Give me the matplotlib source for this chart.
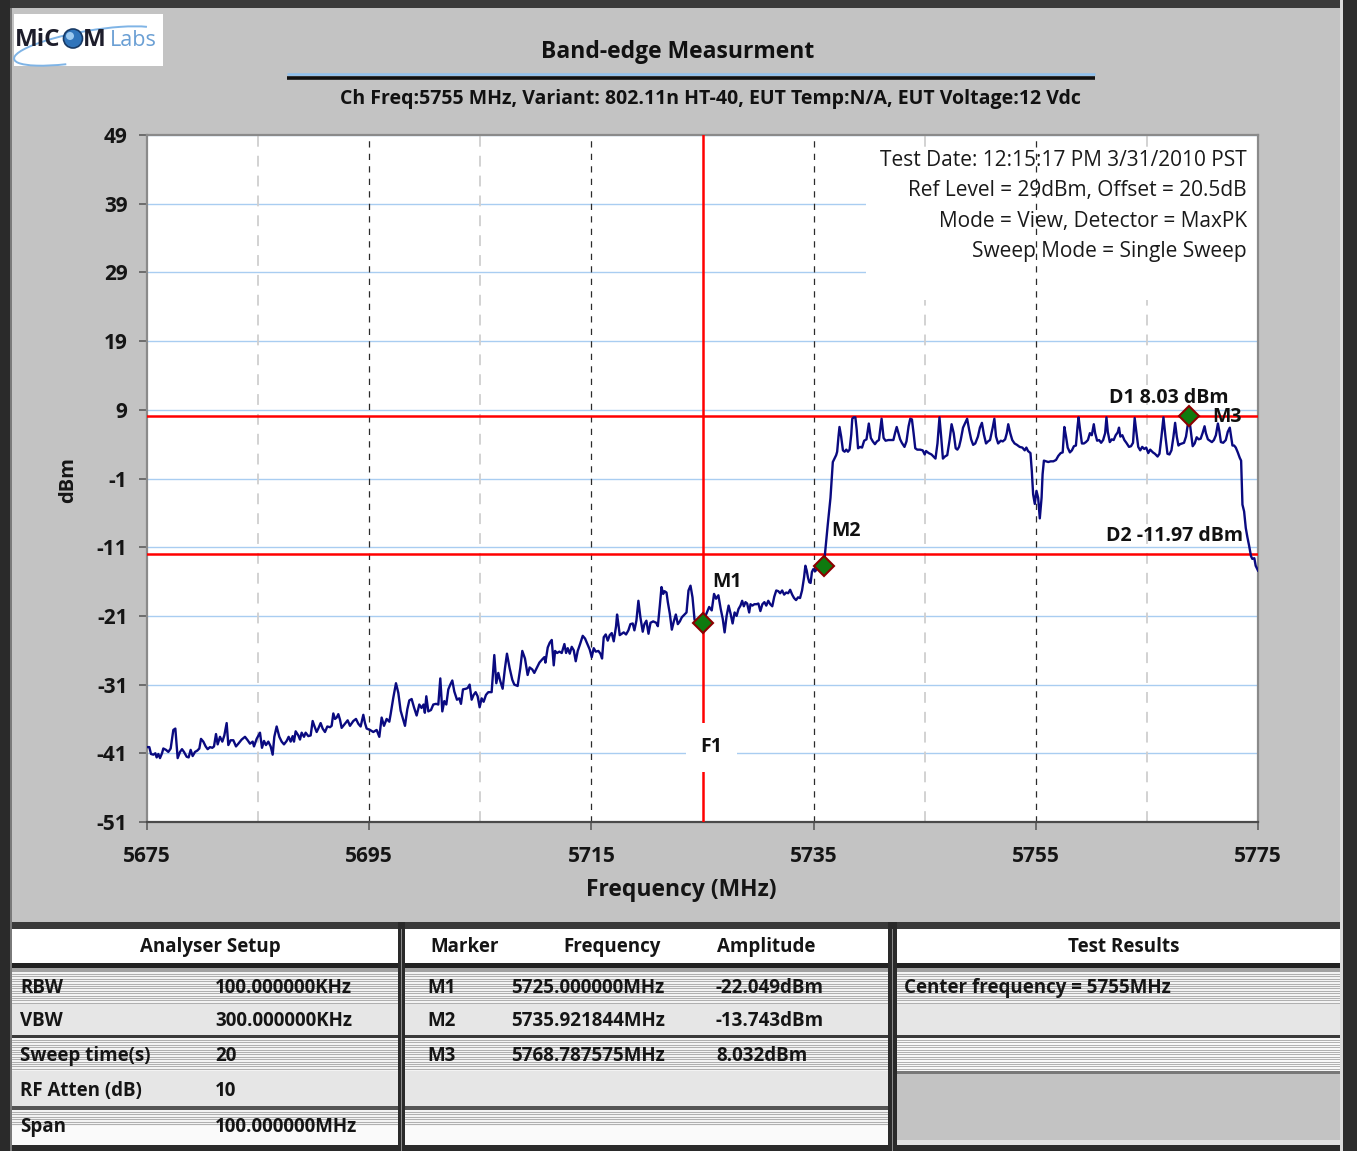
import matplotlib
matplotlib.use("Agg")
import matplotlib.pyplot as plt
from matplotlib.patches import Rectangle, Circle, Arc
import numpy as np

plt.rcParams['font.family'] = ['Open Sans', 'DejaVu Sans']

# ---------------------------------------------------------------- data
x_ticks = [5675, 5695, 5715, 5735, 5755, 5775]
x_tick_labels = ["5675", "5695", "5715", "5735", "5755", "5775"]
y_ticks = [-51, -41, -31, -21, -11, -1, 9, 19, 29, 39, 49]
y_tick_labels = ["-51", "-41", "-31", "-21", "-11", "-1", "9", "19", "29", "39", "49"]

# Sweep trace, lower band edge (noise floor region)
sweep_a_mhz = [
    5675.00, 5675.21, 5675.36, 5675.57, 5675.75, 5675.87, 5676.02, 5676.17,
    5676.35, 5676.47, 5676.71, 5676.92, 5677.13, 5677.37, 5677.55, 5677.76,
    5677.97, 5678.15, 5678.33, 5678.57, 5678.75, 5678.93, 5679.11, 5679.32,
    5679.53, 5679.71, 5679.86, 5680.07, 5680.28, 5680.46, 5680.67, 5680.88,
    5681.03, 5681.21, 5681.36, 5681.57, 5681.78, 5681.96, 5682.17, 5682.32,
    5682.53, 5682.77, 5683.01, 5683.22, 5683.52, 5683.82, 5684.06, 5684.27,
    5684.51, 5684.63, 5684.87, 5685.17, 5685.35, 5685.53, 5685.71, 5685.92,
    5686.13, 5686.31, 5686.46, 5686.67, 5686.91, 5687.12, 5687.33, 5687.57,
    5687.75, 5687.93, 5688.11, 5688.23, 5688.38, 5688.62, 5688.77, 5688.92,
    5689.13, 5689.28, 5689.52, 5689.73, 5689.91, 5690.06, 5690.27, 5690.42,
    5690.63, 5690.81, 5691.02, 5691.23, 5691.47, 5691.62, 5691.77, 5691.92,
    5692.07, 5692.22, 5692.37, 5692.52, 5692.67, 5692.88, 5693.06, 5693.27,
    5693.57, 5693.81, 5694.02, 5694.23, 5694.47, 5694.62, 5694.77, 5695.07,
    5695.37, 5695.67, 5695.91, 5696.12, 5696.33, 5696.57, 5696.81, 5696.93,
    5697.17, 5697.41, 5697.62, 5697.83, 5698.01, 5698.22, 5698.43, 5698.61,
    5698.82, 5699.03, 5699.27, 5699.51,
]
sweep_a_dbm = [
    -40.1, -40.1, -41.1, -41.2, -41.0, -41.6, -41.1, -41.7,
    -41.0, -40.3, -40.5, -40.8, -40.3, -37.6, -37.4, -41.7,
    -40.8, -40.4, -40.8, -41.5, -41.6, -40.5, -41.4, -40.8,
    -40.6, -40.3, -38.9, -39.3, -40.0, -40.4, -40.1, -40.2,
    -40.0, -38.2, -39.7, -38.6, -39.3, -38.4, -36.6, -39.8,
    -39.1, -39.1, -40.0, -39.6, -39.0, -38.6, -39.1, -39.6,
    -39.3, -40.0, -38.9, -38.0, -40.2, -39.2, -39.8, -39.3,
    -40.0, -41.2, -38.6, -37.1, -38.6, -39.3, -39.7, -39.2,
    -38.6, -39.3, -38.5, -39.3, -37.8, -38.4, -39.0, -38.0,
    -38.6, -38.0, -38.5, -38.4, -36.3, -37.0, -37.9, -37.4,
    -36.6, -37.4, -37.9, -37.1, -37.2, -37.0, -35.2, -36.0,
    -35.8, -35.3, -36.1, -37.3, -37.0, -36.6, -36.2, -37.0,
    -36.3, -36.0, -36.7, -37.1, -35.4, -36.6, -37.4, -37.6,
    -37.9, -37.6, -38.6, -35.8, -37.0, -36.0, -36.4, -35.3,
    -32.9, -30.8, -32.2, -34.8, -35.8, -37.0, -34.6, -33.3,
    -33.1, -34.3, -35.5, -33.9,
]

sweep_b_mhz = [
    5699.71, 5699.89, 5700.01, 5700.14, 5700.32, 5700.56, 5700.77, 5701.01,
    5701.22, 5701.40, 5701.58, 5701.76, 5701.94, 5702.12, 5702.30, 5702.48,
    5702.66, 5702.90, 5703.11, 5703.26, 5703.44, 5703.71, 5703.86, 5704.04,
    5704.22, 5704.40, 5704.58, 5704.76, 5704.94, 5705.12, 5705.30, 5705.51,
    5705.72, 5706.02, 5706.26, 5706.44, 5706.62, 5706.80, 5707.01, 5707.22,
    5707.40, 5707.64, 5707.88, 5708.06, 5708.36, 5708.60, 5708.78, 5709.02,
    5709.26, 5709.44, 5709.68, 5709.86, 5710.11, 5710.32, 5710.59, 5710.77,
    5710.86, 5711.07, 5711.25, 5711.43, 5711.61, 5711.73, 5711.91, 5712.12,
    5712.33, 5712.57, 5712.72, 5712.87, 5713.05, 5713.23, 5713.41, 5713.59,
    5713.77, 5713.98, 5714.22, 5714.43, 5714.67, 5714.85, 5715.03, 5715.21,
    5715.39, 5715.63, 5715.81, 5715.96, 5716.11, 5716.29, 5716.47, 5716.65,
    5716.83, 5717.01, 5717.22, 5717.31, 5717.43, 5717.55, 5717.73, 5717.91,
    5718.12, 5718.33, 5718.51, 5718.72, 5718.87, 5719.05, 5719.23, 5719.41,
    5719.62, 5719.77, 5719.95, 5720.14, 5720.32, 5720.56, 5720.83, 5720.98,
    5721.16, 5721.31, 5721.46, 5721.58, 5721.76, 5721.88, 5722.06, 5722.24,
    5722.42, 5722.60, 5722.78, 5722.96, 5723.14, 5723.38, 5723.56, 5723.74,
    5723.92, 5724.10, 5724.28, 5724.43,
]
sweep_b_dbm = [
    -34.4, -33.9, -35.1, -32.7, -34.9, -34.7, -33.9, -33.8,
    -33.9, -30.1, -34.9, -33.4, -33.9, -31.7, -31.0, -30.4,
    -32.0, -33.2, -33.0, -33.8, -31.7, -31.6, -31.5, -31.0,
    -33.2, -32.5, -32.1, -32.7, -34.3, -33.0, -33.5, -32.5,
    -32.1, -32.1, -26.7, -30.8, -29.3, -30.5, -31.6, -28.6,
    -26.5, -28.6, -30.3, -31.0, -31.2, -28.6, -26.1, -27.2,
    -29.6, -28.5, -28.8, -29.3, -28.5, -27.8, -27.3, -27.0,
    -27.8, -25.6, -24.9, -24.5, -28.2, -26.1, -26.4, -26.2,
    -26.4, -25.1, -26.4, -25.7, -26.5, -25.5, -26.0, -27.6,
    -26.1, -25.1, -23.9, -24.3, -25.2, -25.9, -27.0, -25.7,
    -26.2, -26.1, -26.5, -27.2, -24.1, -23.7, -24.6, -23.8,
    -23.5, -24.7, -22.5, -20.8, -22.2, -23.8, -23.6, -23.4,
    -23.7, -23.1, -22.2, -22.1, -23.1, -21.7, -18.8, -21.2,
    -23.3, -22.2, -21.7, -23.6, -22.0, -21.8, -22.0, -22.5,
    -19.5, -16.8, -17.8, -17.4, -17.6, -19.0, -20.7, -23.0,
    -21.8, -20.8, -22.2, -21.8, -21.2, -20.8, -20.5, -17.3,
    -16.6, -18.3, -21.5, -22.1,
]

sweep_c_mhz = [
    5725.00, 5725.39, 5725.60, 5725.83, 5726.04, 5726.22, 5726.43, 5726.64,
    5726.82, 5726.99, 5727.17, 5727.35, 5727.53, 5727.71, 5727.89, 5728.07,
    5728.24, 5728.42, 5728.57, 5728.72, 5728.87, 5729.02, 5729.20, 5729.32,
    5729.49, 5729.67, 5729.85, 5730.03, 5730.21, 5730.39, 5730.57, 5730.74,
    5730.92, 5731.10, 5731.28, 5731.46, 5731.64, 5731.82, 5731.99, 5732.17,
    5732.35, 5732.53, 5732.71, 5732.89, 5733.07, 5733.24, 5733.42, 5733.60,
    5733.78, 5733.96, 5734.14, 5734.26, 5734.38, 5734.49, 5734.61, 5734.73,
    5734.85, 5734.97, 5735.15, 5735.36, 5735.57, 5735.92, 5736.05,
]
sweep_c_dbm = [
    -22.05, -20.5, -19.7, -20.2, -17.8, -18.5, -18.0, -20.0,
    -21.4, -23.4, -21.0, -19.5, -20.7, -22.1, -20.5, -21.0,
    -20.0, -19.5, -18.8, -19.6, -19.0, -19.2, -20.5, -19.3,
    -19.5, -19.3, -19.3, -19.2, -20.3, -19.3, -19.0, -19.5,
    -18.8, -19.3, -19.6, -18.2, -17.3, -17.4, -17.7, -17.3,
    -17.9, -17.6, -17.7, -17.2, -17.9, -18.4, -18.7, -18.3,
    -18.4, -17.3, -15.4, -13.7, -14.4, -15.4, -16.1, -16.2,
    -14.6, -14.2, -14.5, -13.9, -13.7, -13.74, -11.5,
]

# In-band, lower 20 MHz sub-channel
sweep_d_mhz = [
    5736.27, 5736.52, 5736.73, 5736.88, 5737.03, 5737.12, 5737.24, 5737.33,
    5737.48, 5737.64, 5737.79, 5737.94, 5738.09, 5738.24, 5738.39, 5738.48,
    5738.61, 5738.76, 5738.88, 5739.00, 5739.18, 5739.36, 5739.55, 5739.76,
    5739.97, 5740.15, 5740.33, 5740.52, 5740.70, 5740.88, 5741.12, 5741.30,
    5741.48, 5741.73, 5741.97, 5742.18, 5742.33, 5742.48, 5742.64, 5742.79,
    5742.94, 5743.18, 5743.36, 5743.55, 5743.70, 5743.85, 5744.00, 5744.15,
    5744.33, 5744.58, 5744.82, 5745.00, 5745.12, 5745.36, 5745.61, 5745.79,
    5745.97, 5746.15, 5746.33, 5746.48, 5746.64, 5746.82, 5747.03, 5747.24,
    5747.42, 5747.61, 5747.79, 5747.94, 5748.09, 5748.24, 5748.45, 5748.82,
    5749.00, 5749.18, 5749.36, 5749.55, 5749.79, 5749.97, 5750.15, 5750.33,
    5750.52, 5750.70, 5750.88, 5751.12, 5751.27, 5751.42, 5751.61, 5751.85,
    5752.03, 5752.24, 5752.39, 5752.52, 5752.70, 5752.88, 5753.09, 5753.30,
    5753.55, 5753.79, 5754.00, 5754.15, 5754.30, 5754.52, 5754.64, 5754.76,
    5754.91, 5755.06, 5755.21, 5755.36, 5755.52, 5755.61, 5755.73, 5755.91,
    5756.12,
]
sweep_d_dbm = [
    -7.8, -3.8, 1.4, 1.9, 2.4, 2.9, 5.1, 6.5,
    5.1, 3.1, 2.9, 3.2, 2.9, 3.2, 5.4, 7.7,
    7.9, 7.9, 6.1, 3.4, 3.6, 3.5, 4.5, 4.7,
    7.0, 4.9, 4.4, 4.0, 4.4, 4.6, 7.7, 4.9,
    4.5, 4.6, 4.6, 4.6, 5.6, 6.5, 5.6, 4.7,
    4.2, 3.6, 4.4, 6.6, 7.7, 7.6, 5.6, 3.4,
    3.2, 3.2, 3.1, 2.5, 3.0, 2.7, 2.5, 2.2,
    1.9, 4.1, 7.9, 5.1, 1.9, 2.2, 2.4, 4.6,
    6.9, 5.6, 3.4, 3.2, 3.6, 4.6, 6.4, 7.7,
    6.1, 4.7, 3.9, 4.1, 5.1, 6.4, 7.1, 5.4,
    4.1, 4.4, 4.6, 6.4, 7.7, 5.1, 4.1, 4.5,
    4.4, 4.7, 5.6, 6.9, 5.6, 4.6, 4.1, 3.9,
    3.6, 3.5, 3.1, 3.5, 3.0, 2.7, 0.1, -3.3,
    -4.7, -2.8, -3.8, -6.8, -3.8, -0.4, 1.6, 1.5,
    1.4,
]

# In-band, upper 20 MHz sub-channel and upper edge roll-off
sweep_e_mhz = [
    5756.34, 5756.58, 5756.82, 5757.03, 5757.24, 5757.42, 5757.57, 5757.72,
    5757.87, 5758.07, 5758.25, 5758.43, 5758.61, 5758.76, 5758.85, 5758.97,
    5759.15, 5759.33, 5759.51, 5759.69, 5759.87, 5760.04, 5760.22, 5760.34,
    5760.52, 5760.70, 5760.88, 5761.06, 5761.24, 5761.36, 5761.48, 5761.66,
    5761.84, 5762.01, 5762.19, 5762.37, 5762.49, 5762.61, 5762.79, 5762.97,
    5763.15, 5763.39, 5763.57, 5763.75, 5763.90, 5764.04, 5764.22, 5764.40,
    5764.58, 5764.76, 5764.94, 5765.12, 5765.30, 5765.54, 5765.72, 5765.96,
    5766.13, 5766.31, 5766.49, 5766.67, 5766.85, 5767.03, 5767.21, 5767.39,
    5767.54, 5767.69, 5767.84, 5767.99, 5768.16, 5768.34, 5768.52, 5768.70,
    5768.79, 5768.97, 5769.12, 5769.30, 5769.48, 5769.66, 5769.84, 5770.01,
    5770.19, 5770.31, 5770.49, 5770.67, 5770.85, 5771.03, 5771.21, 5771.39,
    5771.51, 5771.66, 5771.87, 5772.10, 5772.28, 5772.46, 5772.58, 5772.70,
    5772.85, 5773.00, 5773.18, 5773.36, 5773.48, 5773.60, 5773.75, 5773.90,
    5774.04, 5774.19, 5774.37, 5774.49, 5774.67, 5774.79, 5775.00,
]
sweep_e_dbm = [
    1.5, 1.5, 1.7, 2.3, 2.7, 2.8, 6.5, 5.1,
    3.5, 2.8, 3.1, 3.7, 3.8, 6.6, 7.9, 6.3,
    4.1, 4.1, 4.3, 4.6, 5.6, 5.3, 6.9, 5.6,
    4.5, 4.6, 4.2, 4.6, 5.6, 7.9, 5.8, 4.3,
    4.7, 4.6, 5.3, 5.7, 6.4, 5.1, 5.3, 4.6,
    4.2, 3.6, 3.7, 4.2, 7.8, 5.9, 3.6, 3.1,
    3.6, 3.3, 3.5, 2.7, 3.2, 2.8, 2.6, 2.2,
    2.6, 5.1, 7.9, 5.1, 2.6, 2.5, 3.1, 5.1,
    7.1, 5.1, 3.8, 4.0, 4.1, 4.2, 5.1, 7.1,
    8.03, 5.6, 3.7, 4.1, 5.0, 4.7, 4.8, 5.6,
    6.6, 5.6, 4.7, 4.5, 4.3, 4.6, 5.3, 7.0,
    6.0, 4.3, 4.2, 4.6, 5.8, 6.4, 5.1, 3.8,
    3.8, 3.5, 2.8, 2.0, 1.6, -4.8, -5.8, -8.2,
    -9.5, -10.7, -12.3, -12.7, -12.6, -13.7, -14.4,
]

marker_names = ["M1", "M2", "M3"]
marker_mhz = [5725.000000, 5735.921844, 5768.787575]
marker_dbm = [-22.049, -13.743, 8.032]

d1_dbm = 8.03      # peak display line
d2_dbm = -11.97    # peak - 20 dB display line
f1_mhz = 5725.0    # band edge frequency line

info_lines = [
    "Test Date: 12:15:17 PM 3/31/2010 PST",
    "Ref Level = 29dBm, Offset = 20.5dB",
    "Mode = View, Detector = MaxPK",
    "Sweep Mode = Single Sweep",
]

setup_names = ["RBW", "VBW", "Sweep time(s)", "RF Atten (dB)", "Span"]
setup_values = ["100.000000KHz", "300.000000KHz", "20", "10", "100.000000MHz"]
results_lines = ["Center frequency = 5755MHz"]

title = "Band-edge Measurment"
subtitle = "Ch Freq:5755 MHz, Variant: 802.11n HT-40, EUT Temp:N/A, EUT Voltage:12 Vdc"

freq = np.concatenate([sweep_a_mhz, sweep_b_mhz, sweep_c_mhz, sweep_d_mhz, sweep_e_mhz])
level = np.concatenate([sweep_a_dbm, sweep_b_dbm, sweep_c_dbm, sweep_d_dbm, sweep_e_dbm])

# ---------------------------------------------------------------- figure
W, H = 1357, 1151
fig = plt.figure(figsize=(W / 100, H / 100), dpi=100)
fig.patch.set_facecolor('#c3c3c3')

# Background canvas in pixel coordinates (frame, logo, headings, tables)
bg = fig.add_axes([0, 0, 1, 1], zorder=0)
bg.set_xlim(0, W)
bg.set_ylim(H, 0)
bg.axis('off')


def rect(x0, y0, x1, y1, color, z=1):
    bg.add_patch(Rectangle((x0, y0), x1 - x0, y1 - y0, facecolor=color,
                           edgecolor='none', zorder=z))


def stripes(x0, y0, x1, y1, base='#f3f3f3', line='#9c9c9c', step=2.4):
    rect(x0, y0, x1, y1, base)
    yy = y0 + 2
    while yy < y1 - 1:
        bg.plot([x0, x1], [yy, yy], color=line, lw=0.55, zorder=1.2)
        yy += step


# outer frame
rect(0, 0, W, 8, '#3a3a3a', 3)
rect(0, 0, 10, H, '#2a2a2a', 3)
rect(10, 8, 12, H, '#7a7a7a', 3)
rect(1343, 0, W, H, '#2e2e2e', 3)
rect(1340, 0, 1343, H, '#dcdcdc', 3)

# logo
rect(14, 14, 163, 66, 'white', 2)
bg.add_patch(Arc((88, 46), 150, 30, angle=-10, theta1=150, theta2=352,
                 color='#7fb4e6', lw=1.4, zorder=2.5))
bg.text(15, 40, "MiC", fontsize=17.5, fontweight='bold', color='#1d1d2b',
        ha='left', va='center', zorder=3)
bg.add_patch(Circle((73, 38.5), 9.5, facecolor='#2f74bb', edgecolor='#173a66',
                    lw=1.2, zorder=3))
bg.add_patch(Circle((70, 36), 4, facecolor='#9cc9ef', edgecolor='none', zorder=3.1))
bg.text(83, 40, "M", fontsize=17.5, fontweight='bold', color='#1d1d2b',
        ha='left', va='center', zorder=3)
bg.text(110, 40, "Labs", fontsize=15.5, color='#6a9fd4', ha='left', va='center',
        zorder=3)

# headings
bg.text(678, 52, title, fontsize=16.5, fontweight='bold', color='#111111',
        ha='center', va='center')
bg.plot([287, 1095], [74, 74], color='#8fc1ef', lw=1.8, solid_capstyle='butt')
bg.plot([287, 1095], [78, 78], color='#111111', lw=2.6, solid_capstyle='butt')
bg.text(710, 99, subtitle, fontsize=14, fontweight='bold', color='#111111',
        ha='center', va='center')

# ---------------------------------------------------------------- tables
panels = [(12, 398), (405, 888), (897, 1340)]
rect(10, 922, 1340, 929, '#3a3a3a')
rect(398, 922, 405, H, '#2a2a2a', 2)
rect(888, 922, 897, H, '#2a2a2a', 2)
rect(401, 929, 402, H, '#8a8a8a', 2.1)
rect(892, 929, 893, H, '#8a8a8a', 2.1)
rect(10, 1145, 1340, H, '#2a2a2a', 2)

for i, (x0, x1) in enumerate(panels):
    rect(x0, 929, x1, 963, 'white')
    rect(x0, 963, x1, 968, '#222222')
    rect(x0, 968, x1, 972, '#a2a2a2')
    stripes(x0, 972, x1, 1004)
    rect(x0, 1004, x1, 1035, '#e6e6e6')
    rect(x0, 1035, x1, 1038, '#3a3a3a')
    if i < 2:
        stripes(x0, 1038, x1, 1071)
        rect(x0, 1071, x1, 1106, '#e6e6e6')
        rect(x0, 1106, x1, 1110, '#555555')
        stripes(x0, 1110, x1, 1126)
        rect(x0, 1126, x1, 1145, '#fafafa')
    else:
        stripes(x0, 1038, x1, 1071, base='#f7f7f7')
        rect(x0, 1071, x1, 1074, '#777777')
        rect(x0, 1074, x1, 1140, '#c3c3c3')
        rect(x0, 1140, x1, 1145, '#e0e0e0')

row_y = [988, 1021, 1056, 1091, 1127]
tkw = dict(fontsize=13.5, fontweight='bold', color='#151515', va='center', zorder=4)

bg.text(210, 947, "Analyser Setup", ha='center', **tkw)
for y, name, val in zip(row_y, setup_names, setup_values):
    bg.text(20, y, name, ha='left', **tkw)
    bg.text(215, y, val, ha='left', **tkw)

bg.text(430, 947, "Marker", ha='left', **tkw)
bg.text(563, 947, "Frequency", ha='left', **tkw)
bg.text(717, 947, "Amplitude", ha='left', **tkw)
for y, name, f, a in zip(row_y, marker_names, marker_mhz, marker_dbm):
    bg.text(427, y, name, ha='left', **tkw)
    bg.text(511, y, f"{f:.6f}MHz", ha='left', **tkw)
    bg.text(716, y, f"{a:.3f}dBm", ha='left', **tkw)

bg.text(1124, 947, "Test Results", ha='center', **tkw)
for y, line in zip(row_y, results_lines):
    bg.text(904, y, line, ha='left', **tkw)

# ---------------------------------------------------------------- spectrum plot
ax = fig.add_axes([147 / W, 1 - 822 / H, (1258 - 147) / W, (822 - 135) / H], zorder=1)
ax.set_facecolor('white')
ax.set_xlim(5675, 5775)
ax.set_ylim(-51, 49)

for y in y_ticks:
    if y in (29, 39):
        ax.plot([5675, 5739.7], [y, y], color='#a9cdf1', lw=1.0, zorder=1)
    else:
        ax.axhline(y, color='#a9cdf1', lw=1.0, zorder=1)

for x in [5685, 5705, 5745, 5765]:
    ax.axvline(x, color='#cfcfcf', lw=1.3, ls=(0, (6, 5)), zorder=1)

# area behind the measurement settings text
ax.add_patch(Rectangle((5739.7, 25), 35.3, 21.8, facecolor='white',
                       edgecolor='none', zorder=1.5))

for x in [5695, 5715, 5735, 5755]:
    ax.axvline(x, color='#2b2b2b', lw=0.9, ls=(0, (5, 5)), zorder=2)

ax.axhline(d1_dbm, color='#ff0000', lw=1.8, zorder=3)
ax.axhline(d2_dbm, color='#ff0000', lw=1.8, zorder=3)
ax.axvline(f1_mhz, color='#ff0000', lw=1.8, zorder=3)

ax.plot(freq, level, color='#0a0a80', lw=1.7, zorder=4)
ax.plot(marker_mhz, marker_dbm, ls='none', marker='D', ms=10.5,
        markerfacecolor='#0f7a0f', markeredgecolor='#8b0000', mew=1.5, zorder=5)

lkw = dict(fontsize=14, fontweight='bold', color='#111111', zorder=6,
           textcoords='offset pixels', va='center')
label_offsets = [(25, 41), (22, 35), (38, -1)]
for name, f, a, off in zip(marker_names, marker_mhz, marker_dbm, label_offsets):
    ax.annotate(name, xy=(f, a), xytext=off, ha='center', **lkw)

ax.annotate(f"D1 {d1_dbm:.2f} dBm", xy=(0.973, d1_dbm), xycoords=('axes fraction', 'data'),
            xytext=(0, 18), ha='right', **lkw)
ax.annotate(f"D2 {d2_dbm:.2f} dBm", xy=(0.9865, d2_dbm), xycoords=('axes fraction', 'data'),
            xytext=(0, 18), ha='right', **lkw)
ax.annotate("F1", xy=(f1_mhz, -40.1), xytext=(9, 0), ha='center',
            bbox=dict(boxstyle='square,pad=0.75', facecolor='white', edgecolor='none'),
            **lkw)

info_y = [0.9636, 0.9185, 0.8734, 0.8311]
for y, line in zip(info_y, info_lines):
    ax.text(0.990, y, line, transform=ax.transAxes, ha='right', va='center',
            fontsize=15, color='#1a1a1a', zorder=6)

ax.set_xticks(x_ticks)
ax.set_xticklabels(x_tick_labels)
ax.set_yticks(y_ticks)
ax.set_yticklabels(y_tick_labels)
ax.tick_params(axis='both', direction='out', length=6, width=1.1, color='#555555',
               labelsize=15, labelcolor='#151515')
ax.tick_params(axis='y', pad=8)
ax.tick_params(axis='x', pad=11)
for lab in ax.get_xticklabels() + ax.get_yticklabels():
    lab.set_fontweight('bold')

for side in ['left', 'bottom', 'top', 'right']:
    ax.spines[side].set_color('#8a8a8a')
    ax.spines[side].set_linewidth(1.6)
ax.spines['bottom'].set_color('#4a4a4a')

ax.set_xlabel("Frequency (MHz)", fontsize=16.5, fontweight='bold', color='#151515')
ax.set_ylabel("dBm", fontsize=14.5, fontweight='bold', color='#151515')
ax.xaxis.set_label_coords(0.4806, -0.099)
ax.xaxis.label.set_va('center')
ax.yaxis.set_label_coords(-0.0711, 0.498)
ax.yaxis.label.set_va('center')

fig.savefig("out.png", dpi=100, facecolor=fig.get_facecolor())
